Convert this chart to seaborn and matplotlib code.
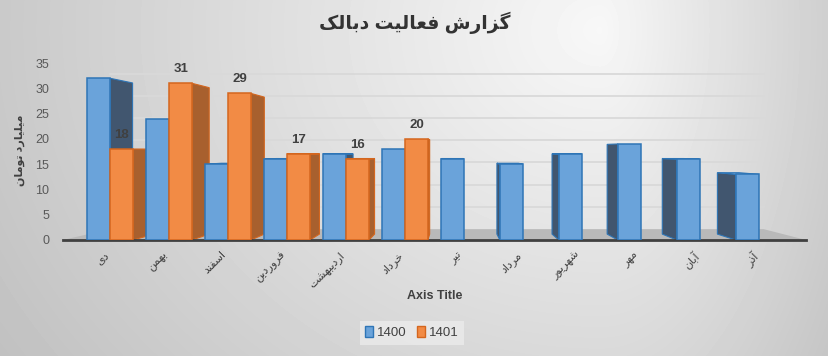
import numpy as np
import pandas as pd
import matplotlib
matplotlib.use('Agg')
import matplotlib.pyplot as plt
import matplotlib.transforms as mtransforms
from matplotlib.patches import Polygon, Patch
import seaborn as sns

months = ['دی', 'بهمن', 'اسفند', 'فروردین', 'اردیبهشت', 'خرداد',
          'تیر', 'مرداد', 'شهریور', 'مهر', 'آبان', 'آذر']
sales_1400 = [32, 24, 15, 16, 17, 18, 16, 15, 17, 19, 16, 13]
sales_1401 = [18, 31, 29, 17, 16, 20]
years = ['1400', '1401']
y_ticks = [0, 5, 10, 15, 20, 25, 30, 35]

title = 'گزارش فعالیت دبالک'
y_label = 'میلیارد تومان'
x_label = 'Axis Title'

# matplotlib has no arabic shaping, so pick presentation forms by hand
# (isolated, final, initial, medial); None = letter does not join forward
FORMS = {
    'ا': ('\uFE8D', '\uFE8E', None, None),
    'آ': ('\uFE81', '\uFE82', None, None),
    'ب': ('\uFE8F', '\uFE90', '\uFE91', '\uFE92'),
    'ت': ('\uFE95', '\uFE96', '\uFE97', '\uFE98'),
    'خ': ('\uFEA5', '\uFEA6', '\uFEA7', '\uFEA8'),
    'د': ('\uFEA9', '\uFEAA', None, None),
    'ذ': ('\uFEAB', '\uFEAC', None, None),
    'ر': ('\uFEAD', '\uFEAE', None, None),
    'ز': ('\uFEAF', '\uFEB0', None, None),
    'س': ('\uFEB1', '\uFEB2', '\uFEB3', '\uFEB4'),
    'ش': ('\uFEB5', '\uFEB6', '\uFEB7', '\uFEB8'),
    'ع': ('\uFEC9', '\uFECA', '\uFECB', '\uFECC'),
    'ف': ('\uFED1', '\uFED2', '\uFED3', '\uFED4'),
    'ل': ('\uFEDD', '\uFEDE', '\uFEDF', '\uFEE0'),
    'م': ('\uFEE1', '\uFEE2', '\uFEE3', '\uFEE4'),
    'ن': ('\uFEE5', '\uFEE6', '\uFEE7', '\uFEE8'),
    'ه': ('\uFEE9', '\uFEEA', '\uFEEB', '\uFEEC'),
    'و': ('\uFEED', '\uFEEE', None, None),
    'ک': ('\uFB8E', '\uFB8F', '\uFB90', '\uFB91'),
    'گ': ('\uFB92', '\uFB93', '\uFB94', '\uFB95'),
    'ی': ('\uFBFC', '\uFBFD', '\uFBFE', '\uFBFF'),
}


def fa(text):
    out = []
    for i, ch in enumerate(text):
        if ch not in FORMS:
            out.append(ch)
            continue
        prev = text[i - 1] if i > 0 else ''
        nxt = text[i + 1] if i < len(text) - 1 else ''
        join_prev = prev in FORMS and FORMS[prev][2] is not None
        join_next = nxt in FORMS and FORMS[ch][2] is not None
        if join_prev and join_next:
            out.append(FORMS[ch][3])
        elif join_prev:
            out.append(FORMS[ch][1])
        elif join_next:
            out.append(FORMS[ch][2])
        else:
            out.append(FORMS[ch][0])
    return ''.join(out)[::-1]


df = pd.concat([
    pd.DataFrame({'month': months, 'value': sales_1400, 'year': years[0]}),
    pd.DataFrame({'month': months[:len(sales_1401)], 'value': sales_1401, 'year': years[1]}),
])

sns.set_theme(style='white')
plt.rcParams['font.family'] = ['Liberation Sans', 'DejaVu Sans']

front = {'1400': '#6AA3DA', '1401': '#F28B45'}
edge = {'1400': '#2E75B6', '1401': '#D4661E'}
side = {'1400': '#41566F', '1401': '#A8602E'}
top = {'1400': '#8DB9E3', '1401': '#F5A571'}

fig = plt.figure(figsize=(8.29, 3.56), dpi=100)

# excel style radial grey background
h_px, w_px = 356, 829
yy, xx = np.mgrid[0:h_px, 0:w_px]
dx = np.where(xx < 600, (xx - 600) / 600.0, (xx - 600) / 260.0)
dy = (yy - 30) / 500.0
r = np.clip(np.sqrt(dx ** 2 + dy ** 2), 0, 1.2)
grad = 0.97 - 0.18 * r
bg = fig.add_axes([0, 0, 1, 1], zorder=-10)
bg.imshow(grad, cmap='gray', vmin=0, vmax=1, aspect='auto', interpolation='bilinear')
bg.axis('off')

ax = fig.add_axes([0.076, 0.326, 0.896, 0.508])
ax.patch.set_alpha(0)

sns.barplot(data=df, x='month', y='value', hue='year', order=months, hue_order=years,
            palette=front, saturation=1, width=0.78, errorbar=None, legend=False,
            linewidth=1.1, zorder=3, ax=ax)

xmin, xmax = -0.8, 11.8
ax.set_xlim(xmin, xmax)
ax.set_ylim(0, 35.8)

# fake 3d: everything recedes toward one vanishing point
vx, vy = 5.85, 17.8
wall = 0.12
depth = 0.065


def back(px, py, f):
    return (px + (vx - px) * f, py + (vy - py) * f)


floor = [(xmin, 0), (xmax, 0), back(xmax, 0, wall), back(xmin, 0, wall)]
ax.add_patch(Polygon(floor, closed=True, facecolor='#b9b9b9', edgecolor='none', zorder=1))
for t in y_ticks[1:]:
    x0b, yb = back(xmin, t, wall)
    x1b, _ = back(xmax, t, wall)
    ax.plot([x0b, x1b], [yb, yb], color='#d9d9d9', lw=1.3, zorder=0.5)

for year, cont in zip(years, ax.containers):
    for bar in cont:
        h = bar.get_height()
        if not np.isfinite(h):
            continue
        bar.set_edgecolor(edge[year])
        xl = bar.get_x()
        xr = xl + bar.get_width()
        ed = xr if xr <= vx else (xl if xl >= vx else None)
        if ed is not None:
            pts = [(ed, 0), (ed, h), back(ed, h, depth), back(ed, 0, depth)]
            ax.add_patch(Polygon(pts, closed=True, facecolor=side[year],
                                 edgecolor=edge[year], lw=0.8, zorder=2))
        if h < vy:
            pts = [(xl, h), (xr, h), back(xr, h, depth), back(xl, h, depth)]
            ax.add_patch(Polygon(pts, closed=True, facecolor=top[year],
                                 edgecolor=edge[year], lw=0.8, zorder=2))

ax.bar_label(ax.containers[1], fmt='%g', padding=6, fontsize=9.5,
             fontweight='bold', color='#404040')

ax.set_yticks(y_ticks)
ax.set_xticks(range(len(months)))
ax.set_xticklabels([fa(m) for m in months])
ax.set_xlabel('')
ax.set_ylabel('')
ax.tick_params(axis='y', length=0, pad=10, labelsize=9, labelcolor='#595959')
ax.tick_params(axis='x', length=0, pad=7, labelsize=8, labelcolor='#404040')
shift = mtransforms.ScaledTranslation(-5 / 72, 0, fig.dpi_scale_trans)
for lbl in ax.get_xticklabels():
    lbl.set_rotation(45)
    lbl.set_ha('right')
    lbl.set_va('top')
    lbl.set_rotation_mode('anchor')
    lbl.set_transform(lbl.get_transform() + shift)

sns.despine(ax=ax, left=True)
ax.spines['bottom'].set_color('#404040')
ax.spines['bottom'].set_linewidth(2)
ax.grid(False)

fig.text(0.5, 0.937, fa(title), ha='center', va='center', fontsize=13.5,
         fontweight='bold', color='#333333')
fig.text(0.024, 0.579, fa(y_label), ha='center', va='center', rotation=90,
         fontsize=8, fontweight='bold', color='#404040')
fig.text(0.524, 0.169, x_label, ha='center', va='center', fontsize=9,
         fontweight='bold', color='#404040')

handles = [Patch(facecolor=front[y], edgecolor=edge[y], lw=1) for y in years]
fig.legend(handles, years, loc='center', bbox_to_anchor=(0.497, 0.065), ncol=2,
           frameon=True, facecolor='#ebebeb', edgecolor='none', fancybox=False,
           fontsize=9.5, labelcolor='#404040', handlelength=0.6, handleheight=0.9,
           handletextpad=0.3, columnspacing=0.8, borderpad=0.4)

fig.savefig('out.png', dpi=100)
